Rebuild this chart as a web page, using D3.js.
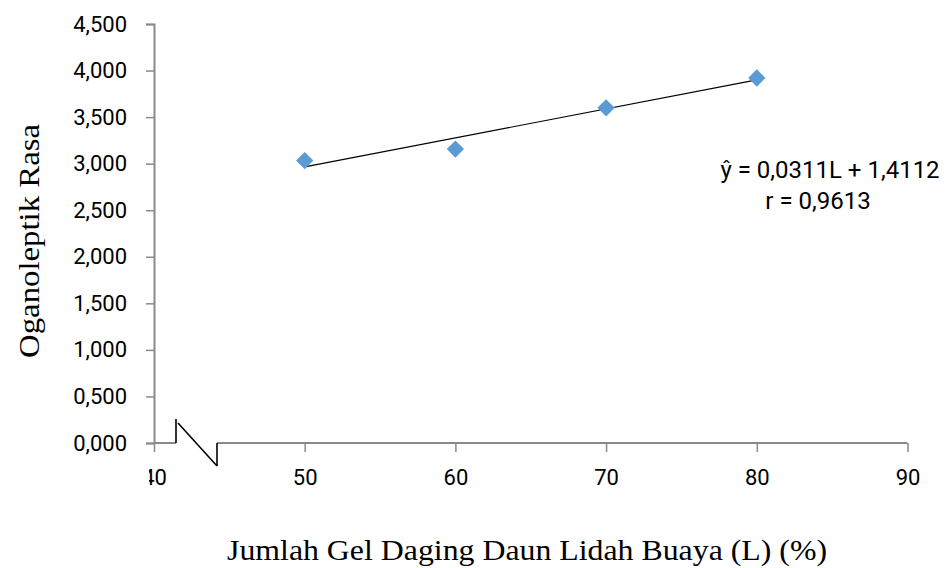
<!DOCTYPE html>
<html>
<head>
<meta charset="utf-8">
<script src="https://cdn.jsdelivr.net/npm/d3@7"></script>
<style>
  html, body { margin: 0; padding: 0; background: #fff; }
  svg { display: block; }
</style>
</head>
<body>
<svg id="chart" width="945" height="568"></svg>
<script>
// Gel concentration (%) and mean taste score
const levels = [50, 60, 70, 80];
const scores = [3.033, 3.157, 3.600, 3.920];
const yTicks = [0, 0.5, 1, 1.5, 2, 2.5, 3, 3.5, 4, 4.5];
const xTicks = [40, 50, 60, 70, 80, 90];
const slope = 0.0311, intercept = 1.4112;
const eqText = "ŷ = 0,0311L + 1,4112";
const rText = "r = 0,9613";

const svg = d3.select("#chart");
const axisColor = "#898989";
const tickFont = "Roboto, 'Open Sans', sans-serif";
const serif = "'Liberation Serif', 'Times New Roman', serif";

const x = d3.scaleLinear().domain([40, 90]).range([154, 907.5]);
const y = d3.scaleLinear().domain([0, 4.5]).range([443, 24]);
const fmt = v => d3.format(".3f")(v).replace(".", ",");

// Y axis
const yAxis = svg.append("g").attr("transform", `translate(${x(40)},0)`)
  .call(d3.axisLeft(y).tickValues(yTicks).tickFormat(fmt).tickSize(8).tickPadding(19));
yAxis.select(".domain").attr("stroke", axisColor).attr("stroke-width", 2);
yAxis.selectAll(".tick line").attr("stroke", axisColor).attr("stroke-width", 1.5);
yAxis.selectAll(".tick text").attr("fill", "#000")
  .style("font-family", tickFont).style("font-size", "22px");

// X axis (broken between the origin and 50); the first label is cut at the left
const clip = svg.append("defs").append("clipPath").attr("id", "xclip");
clip.append("rect").attr("x", 149).attr("y", -5).attr("width", 800).attr("height", 70);

const xAxis = svg.append("g").attr("transform", `translate(0,${y(0)})`)
  .attr("clip-path", "url(#xclip)")
  .call(d3.axisBottom(x).tickValues(xTicks).tickFormat(d3.format("d")).tickSize(9).tickPadding(17));
xAxis.select(".domain").remove();
xAxis.selectAll(".tick line").attr("stroke", axisColor).attr("stroke-width", 1.5);
xAxis.selectAll(".tick text").attr("fill", "#000")
  .style("font-family", tickFont).style("font-size", "22px");

const breakL = 176, breakR = 217;
svg.append("line").attr("x1", x(40)).attr("x2", breakL).attr("y1", y(0)).attr("y2", y(0))
  .attr("stroke", axisColor).attr("stroke-width", 2);
svg.append("line").attr("x1", breakR).attr("x2", x(90)).attr("y1", y(0)).attr("y2", y(0))
  .attr("stroke", axisColor).attr("stroke-width", 2);
// break marks
svg.append("path")
  .attr("d", `M${breakL},${y(0)} V${y(0) - 24} M${breakL + 2},${y(0) - 20} L${breakR},${y(0) + 23} M${breakR},${y(0)} V${y(0) + 23}`)
  .attr("fill", "none").attr("stroke", "#000").attr("stroke-width", 1.6);

// Regression line
const lx = d3.extent(levels);
svg.append("line")
  .attr("x1", x(lx[0])).attr("y1", y(intercept + slope * lx[0]))
  .attr("x2", x(lx[1])).attr("y2", y(intercept + slope * lx[1]))
  .attr("stroke", "#000").attr("stroke-width", 1.2);

// Observed points
svg.append("g").selectAll("path").data(levels).join("path")
  .attr("transform", (d, i) => `translate(${x(d)},${y(scores[i])})`)
  .attr("d", d3.symbol(d3.symbolDiamond2, 190))
  .attr("fill", "#5B9BD5");

// Equation
svg.append("text").attr("x", 830).attr("y", 178).attr("text-anchor", "middle")
  .style("font-family", tickFont).style("font-size", "24px").text(eqText);
svg.append("text").attr("x", 818).attr("y", 209).attr("text-anchor", "middle")
  .style("font-family", tickFont).style("font-size", "24px").text(rText);

// Axis titles
svg.append("text").attr("transform", "translate(39,241) rotate(-90)").attr("text-anchor", "middle")
  .attr("textLength", 234).attr("lengthAdjust", "spacingAndGlyphs")
  .style("font-family", serif).style("font-size", "30px")
  .text("Oganoleptik Rasa");
svg.append("text").attr("x", 527).attr("y", 560).attr("text-anchor", "middle")
  .attr("textLength", 600).attr("lengthAdjust", "spacingAndGlyphs")
  .style("font-family", serif).style("font-size", "30px")
  .text("Jumlah Gel Daging Daun Lidah Buaya (L) (%)");
</script>
</body>
</html>
